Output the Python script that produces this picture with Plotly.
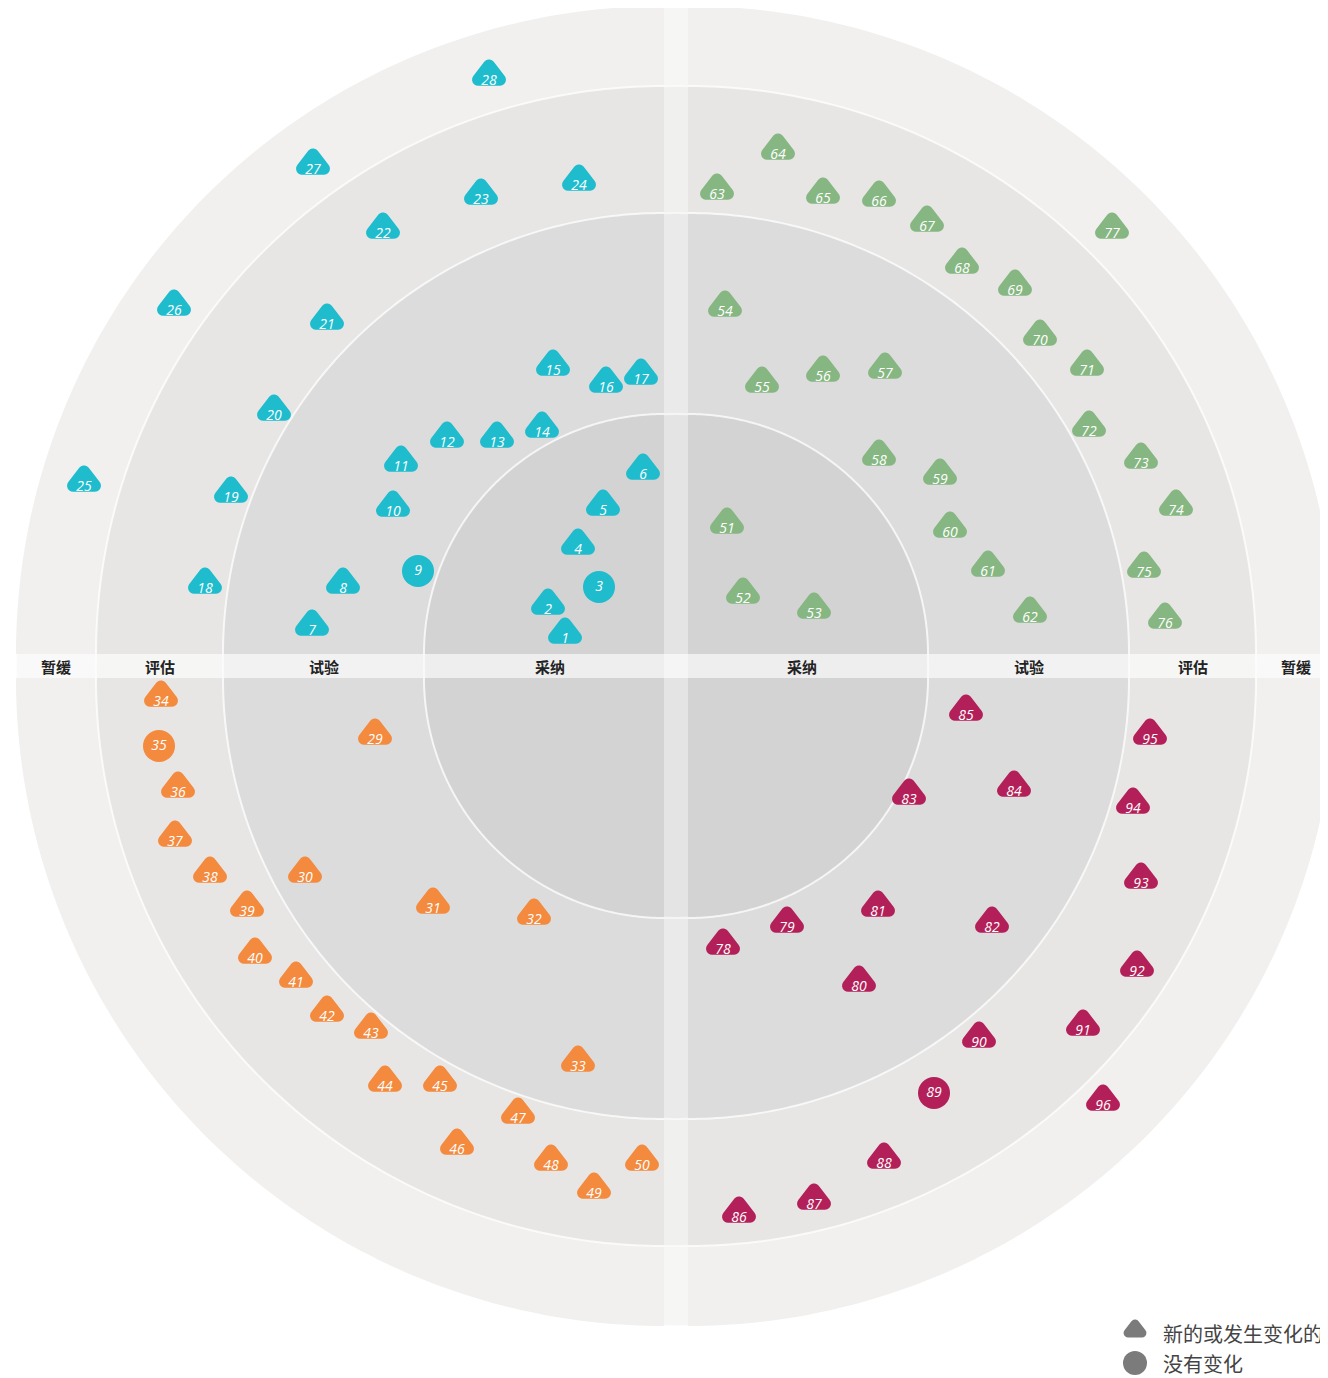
import math
import plotly.graph_objects as go

# ---------------- data ----------------
# Radar coordinates: origin at radar centre, y upwards (1 unit = 1 px)
tl_ids = list(range(1, 29))
tl_x = [-111, -128, -77, -98, -73, -33, -364, -333, -258, -283, -275, -229, -179, -134,
        -123, -70, -35, -471, -445, -402, -349, -293, -195, -97, -592, -502, -363, -187]
tl_y = [27, 56, 79, 116, 155, 191, 35, 77, 95, 154, 199, 223, 223, 233,
        295, 278, 286, 77, 168, 250, 341, 432, 466, 480, 179, 355, 496, 585]
tl_new = [1, 1, 0, 1, 1, 1, 1, 1, 0, 1, 1, 1, 1, 1,
          1, 1, 1, 1, 1, 1, 1, 1, 1, 1, 1, 1, 1, 1]

tr_ids = list(range(51, 78))
tr_x = [51, 67, 138, 49, 86, 147, 209, 203, 264, 274, 312, 354, 41, 102,
        147, 203, 251, 286, 339, 364, 411, 413, 465, 500, 468, 489, 436]
tr_y = [137, 67, 52, 354, 278, 289, 292, 205, 186, 133, 94, 48, 471, 511,
        467, 464, 439, 397, 375, 325, 295, 234, 202, 155, 93, 42, 432]
tr_new = [1] * 27

bl_ids = list(range(29, 51))
bl_x = [-301, -371, -243, -142, -98, -515, -517, -498, -501, -466, -429,
        -421, -380, -349, -305, -291, -236, -219, -158, -125, -82, -34]
bl_y = [-74, -212, -243, -254, -401, -36, -80, -127, -176, -212, -246,
        -293, -317, -351, -368, -421, -421, -484, -453, -500, -528, -500]
bl_new = [1, 1, 1, 1, 1, 1, 0, 1, 1, 1, 1,
          1, 1, 1, 1, 1, 1, 1, 1, 1, 1, 1]

br_ids = list(range(78, 97))
br_x = [47, 111, 183, 202, 316, 233, 338, 290, 63, 138, 208, 258, 303, 407, 461, 465, 457, 474, 427]
br_y = [-284, -262, -321, -246, -262, -134, -126, -50, -552, -539, -498, -427, -377, -365,
        -306, -218, -143, -74, -440]
br_new = [1, 1, 1, 1, 1, 1, 1, 1, 1, 1, 1, 0, 1, 1, 1, 1, 1, 1, 1]

ring_names = ["采纳", "试验", "评估", "暂缓"]
legend_labels = ["新的或发生变化的", "没有变化"]

# ---------------- style ----------------
W, H = 1328, 1378
CX, CY = 676, 666          # pixel position of radar centre in the page
PAGE_OFF = 8               # browser body margin
GAP = 12                   # half band width
RADII = [240, 441, 568, 648]
RING_COLORS = ["#d3d3d3", "#dcdcdc", "#e7e6e5", "#f1f0ee"]
QUAD_COLORS = {"tl": "#1ebccd", "tr": "#86b782", "bl": "#f38a3e", "br": "#b32059"}
TRI_SIZE, TRI_LINE, TRI_LIFT = 19, 12, 6

xr = [-CX + PAGE_OFF, W - CX + PAGE_OFF]
yr = [CY - PAGE_OFF - H, CY - PAGE_OFF]

shapes = []

# underlying full rings (visible through the bands)
for r, c in reversed(list(zip(RADII, RING_COLORS))):
    R = r + GAP
    shapes.append(dict(type="circle", xref="x", yref="y", x0=-R, x1=R, y0=-R, y1=R,
                       fillcolor=c, line=dict(color="rgba(255,255,255,0.6)", width=2),
                       layer="below"))

quads = {"tl": (-GAP, GAP, 90, 180), "tr": (GAP, GAP, 0, 90),
         "bl": (-GAP, -GAP, 180, 270), "br": (GAP, -GAP, 270, 360)}


def arc(cx, cy, r, a0, a1, n=120):
    pts = []
    for i in range(n + 1):
        a = math.radians(a0 + (a1 - a0) * i / n)
        pts.append((cx + r * math.cos(a), cy + r * math.sin(a)))
    return pts


for key, (cx, cy, a0, a1) in quads.items():
    for r, c in reversed(list(zip(RADII, RING_COLORS))):
        pts = arc(cx, cy, r, a0, a1)
        path = f"M {cx},{cy} " + " ".join(f"L {x:.2f},{y:.2f}" for x, y in pts) + " Z"
        shapes.append(dict(type="path", xref="x", yref="y", path=path, fillcolor=c,
                           line=dict(width=0), layer="below"))
    for r in RADII[:-1]:
        pts = arc(cx, cy, r, a0, a1)
        path = f"M {pts[0][0]:.2f},{pts[0][1]:.2f} " + " ".join(
            f"L {x:.2f},{y:.2f}" for x, y in pts[1:])
        shapes.append(dict(type="path", xref="x", yref="y", path=path,
                           line=dict(color="rgba(255,255,255,0.75)", width=2), layer="below"))

# bands
shapes.append(dict(type="rect", xref="x", yref="y", x0=-GAP, x1=GAP, y0=yr[0], y1=yr[1],
                   fillcolor="rgba(255,255,255,0.4)", line=dict(width=0), layer="below"))
shapes.append(dict(type="rect", xref="x", yref="y", x0=xr[0], x1=xr[1], y0=-GAP, y1=GAP,
                   fillcolor="rgba(255,255,255,0.62)", line=dict(width=0), layer="below"))

fig = go.Figure()


def add_quadrant(ids, xs, ys, news, color):
    fig.add_trace(go.Scatter(
        x=xs, y=[y + (TRI_LIFT if n else 0) for y, n in zip(ys, news)], mode="markers",
        marker=dict(symbol=["triangle-up" if n else "circle" for n in news],
                    size=[TRI_SIZE if n else 32 for n in news], color=color, opacity=1,
                    line=dict(color=color, width=[TRI_LINE if n else 0 for n in news])),
        hoverinfo="skip", showlegend=False, cliponaxis=False))
    fig.add_trace(go.Scatter(
        x=xs, y=ys, mode="text",
        text=[str(i) for i in ids], textposition="middle center",
        textfont=dict(family="Open Sans", size=14, color="white", style="italic"),
        hoverinfo="skip", showlegend=False, cliponaxis=False))


add_quadrant(tl_ids, tl_x, tl_y, tl_new, QUAD_COLORS["tl"])
add_quadrant(tr_ids, tr_x, tr_y, tr_new, QUAD_COLORS["tr"])
add_quadrant(bl_ids, bl_x, bl_y, bl_new, QUAD_COLORS["bl"])
add_quadrant(br_ids, br_x, br_y, br_new, QUAD_COLORS["br"])

# ring labels in the horizontal band
annotations = []
inner = [-GAP] + RADII[:-1]
for name, r0, r1 in zip(ring_names, inner, RADII):
    mid = GAP + (r0 + r1) / 2
    for sgn in (-1, 1):
        annotations.append(dict(x=sgn * mid, y=0, xref="x", yref="y", text=f"<b>{name}</b>",
                                showarrow=False,
                                font=dict(family="Noto Sans CJK SC", size=15, color="#222222")))

# legend
leg_x = 459
leg_y = [-667, -697]
fig.add_trace(go.Scatter(
    x=[leg_x, leg_x], y=[leg_y[0] + 3, leg_y[1]], mode="markers",
    marker=dict(symbol=["triangle-up", "circle"], size=[12, 24], color="#7b7b7b", opacity=1,
                line=dict(color="#7b7b7b", width=[9, 0])),
    hoverinfo="skip", showlegend=False, cliponaxis=False))
for lbl, yy in zip(legend_labels, leg_y):
    annotations.append(dict(x=leg_x + 26, y=yy, xref="x", yref="y", text=lbl, showarrow=False,
                            xanchor="left",
                            font=dict(family="Noto Sans CJK SC", size=20, color="#444444")))

fig.update_layout(
    width=W, height=H, margin=dict(l=0, r=0, t=0, b=0),
    paper_bgcolor="white", plot_bgcolor="white",
    xaxis=dict(range=xr, visible=False, fixedrange=True),
    yaxis=dict(range=yr, visible=False, fixedrange=True),
    shapes=shapes, annotations=annotations,
)

# rounded blip corners
post = ("document.querySelectorAll('.scatterlayer path.point')"
        ".forEach(function(p){p.style.strokeLinejoin='round';});")
fig.write_html("out.html", post_script=post)
